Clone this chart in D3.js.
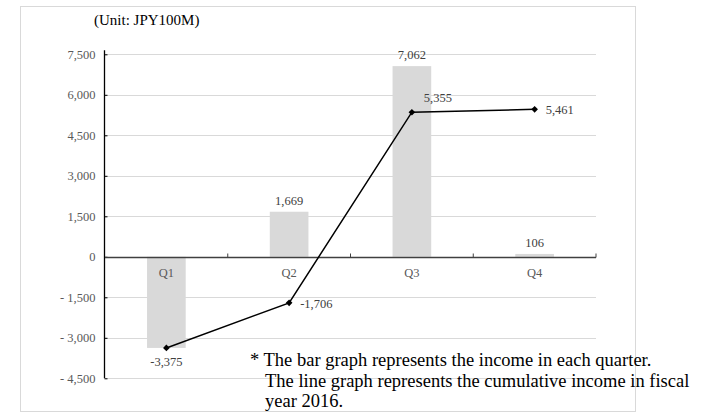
<!DOCTYPE html>
<html>
<head>
<meta charset="utf-8">
<script src="https://cdn.jsdelivr.net/npm/d3@7"></script>
<style>
  body { margin: 0; background: #fff; }
  svg text { font-family: "Liberation Serif", "Times New Roman", serif; }
</style>
</head>
<body>
<div id="chart"></div>
<script>
// quarterly income (bars) and cumulative income (line), JPY100M
var quarters = ["Q1", "Q2", "Q3", "Q4"];
var quarterIncome = [-3375, 1669, 7062, 106];
var cumulativeIncome = [-3375, -1706, 5355, 5461];
var yTicks = [-4500, -3000, -1500, 0, 1500, 3000, 4500, 6000, 7500];
var notes = [
  "* The bar graph represents the income in each quarter.",
  "The line graph represents the cumulative income in fiscal",
  "year 2016."
];

var W = 706, H = 413;

var svg = d3.select("#chart")
  .append("svg")
    .attr("width", W)
    .attr("height", H);

// chart frame
svg.append("rect")
  .attr("x", 20.5).attr("y", 6.5)
  .attr("width", 615).attr("height", 405)
  .attr("fill", "none")
  .attr("stroke", "#d9d9d9");

// scales
var x = d3.scaleBand()
  .domain(quarters)
  .range([105, 596])
  .padding(0);

var y = d3.scaleLinear()
  .domain([-4500, 7500])
  .range([378.3, 54.3]);

var barW = x.bandwidth() * 0.315;

// plain hyphen for negatives, like the original
var fmt = d3.formatLocale({
  decimal: ".", thousands: ",", grouping: [3], currency: ["", ""], minus: "-"
}).format(",");

// gridlines
svg.append("g")
  .selectAll("line")
  .data(yTicks.filter(function(d) { return d !== 0; }))
  .enter().append("line")
    .attr("x1", 105).attr("x2", 596)
    .attr("y1", function(d) { return Math.round(y(d)) + 0.5; })
    .attr("y2", function(d) { return Math.round(y(d)) + 0.5; })
    .attr("stroke", "#d9d9d9");

// y axis
var yAxis = svg.append("g")
  .attr("transform", "translate(104.5,0)")
  .call(d3.axisLeft(y)
    .tickValues(yTicks)
    .tickSize(-3)
    .tickPadding(9)
    .tickFormat(function(d) { return d < 0 ? "- " + fmt(-d) : fmt(d); }));
yAxis.select(".domain")
  .attr("d", "M0," + (y(7500) - 4) + "V" + y(-4500))
  .attr("stroke", "#000")
  .attr("stroke-width", 1.3);
yAxis.selectAll(".tick line").attr("stroke", "#000");
yAxis.selectAll(".tick text")
  .attr("fill", "#595959")
  .style("font-size", "12.5px")
  .style("font-family", "'Liberation Serif', serif");

// bars
svg.append("g")
  .selectAll("rect")
  .data(quarters)
  .enter().append("rect")
    .attr("x", function(d) { return x(d) + x.bandwidth() / 2 - barW / 2; })
    .attr("y", function(d, i) { return y(Math.max(0, quarterIncome[i])); })
    .attr("width", barW)
    .attr("height", function(d, i) { return Math.abs(y(quarterIncome[i]) - y(0)); })
    .attr("fill", "#d9d9d9");

// x axis at zero
var xAxis = svg.append("g")
  .attr("transform", "translate(0," + (Math.round(y(0)) + 0.5) + ")");
xAxis.append("line")
  .attr("x1", 105).attr("x2", 596)
  .attr("stroke", "#404040")
  .attr("stroke-width", 1.3);
xAxis.selectAll(".qtick")
  .data(quarters)
  .enter().append("line")
    .attr("class", "qtick")
    .attr("x1", function(d) { return x(d) + x.bandwidth(); })
    .attr("x2", function(d) { return x(d) + x.bandwidth(); })
    .attr("y1", 0).attr("y2", -4)
    .attr("stroke", "#404040");
xAxis.selectAll("text")
  .data(quarters)
  .enter().append("text")
    .attr("x", function(d) { return x(d) + x.bandwidth() / 2; })
    .attr("y", 19)
    .attr("text-anchor", "middle")
    .attr("fill", "#595959")
    .style("font-size", "12.5px")
    .text(function(d) { return d; });

// bar value labels (Q1 shares its value with the line label)
svg.append("g")
  .selectAll("text")
  .data(quarters)
  .enter().filter(function(d, i) { return quarterIncome[i] >= 0; })
  .append("text")
    .attr("x", function(d) { return x(d) + x.bandwidth() / 2; })
    .attr("y", function(d) { return y(quarterIncome[quarters.indexOf(d)]) - 7; })
    .attr("text-anchor", "middle")
    .attr("fill", "#404040")
    .style("font-size", "12.5px")
    .text(function(d) { return fmt(quarterIncome[quarters.indexOf(d)]); });

// cumulative line
var cx = function(d, i) { return x(quarters[i]) + x.bandwidth() / 2; };
var line = d3.line()
  .x(function(d, i) { return cx(d, i); })
  .y(function(d) { return y(d); });

svg.append("path")
  .datum(cumulativeIncome)
  .attr("d", line)
  .attr("fill", "none")
  .attr("stroke", "#000")
  .attr("stroke-width", 1.5);

svg.append("g")
  .selectAll("path")
  .data(cumulativeIncome)
  .enter().append("path")
    .attr("d", d3.symbol().type(d3.symbolSquare).size(22))
    .attr("transform", function(d, i) {
      return "translate(" + cx(d, i) + "," + y(d) + ") rotate(45)";
    })
    .attr("fill", "#000");

// line labels: below, right, above-right, right
var labelDx = [0, 11, 26, 11];
var labelDy = [18, 5, -10, 5];
var labelAnchor = ["middle", "start", "middle", "start"];
svg.append("g")
  .selectAll("text")
  .data(cumulativeIncome)
  .enter().append("text")
    .attr("x", function(d, i) { return cx(d, i) + labelDx[i]; })
    .attr("y", function(d, i) { return y(d) + labelDy[i]; })
    .attr("text-anchor", function(d, i) { return labelAnchor[i]; })
    .attr("fill", "#404040")
    .style("font-size", "12.5px")
    .text(function(d) { return fmt(d); });

// unit title
svg.append("text")
  .attr("x", 94)
  .attr("y", 25)
  .attr("fill", "#000")
  .style("font-size", "15px")
  .text("(Unit: JPY100M)");

// footnote
svg.append("g")
  .selectAll("text")
  .data(notes)
  .enter().append("text")
    .attr("x", function(d, i) { return i === 0 ? 250 : 265; })
    .attr("y", function(d, i) { return 366 + i * 20.5; })
    .attr("fill", "#000")
    .style("font-size", "18.5px")
    .text(function(d) { return d; });
</script>
</body>
</html>
